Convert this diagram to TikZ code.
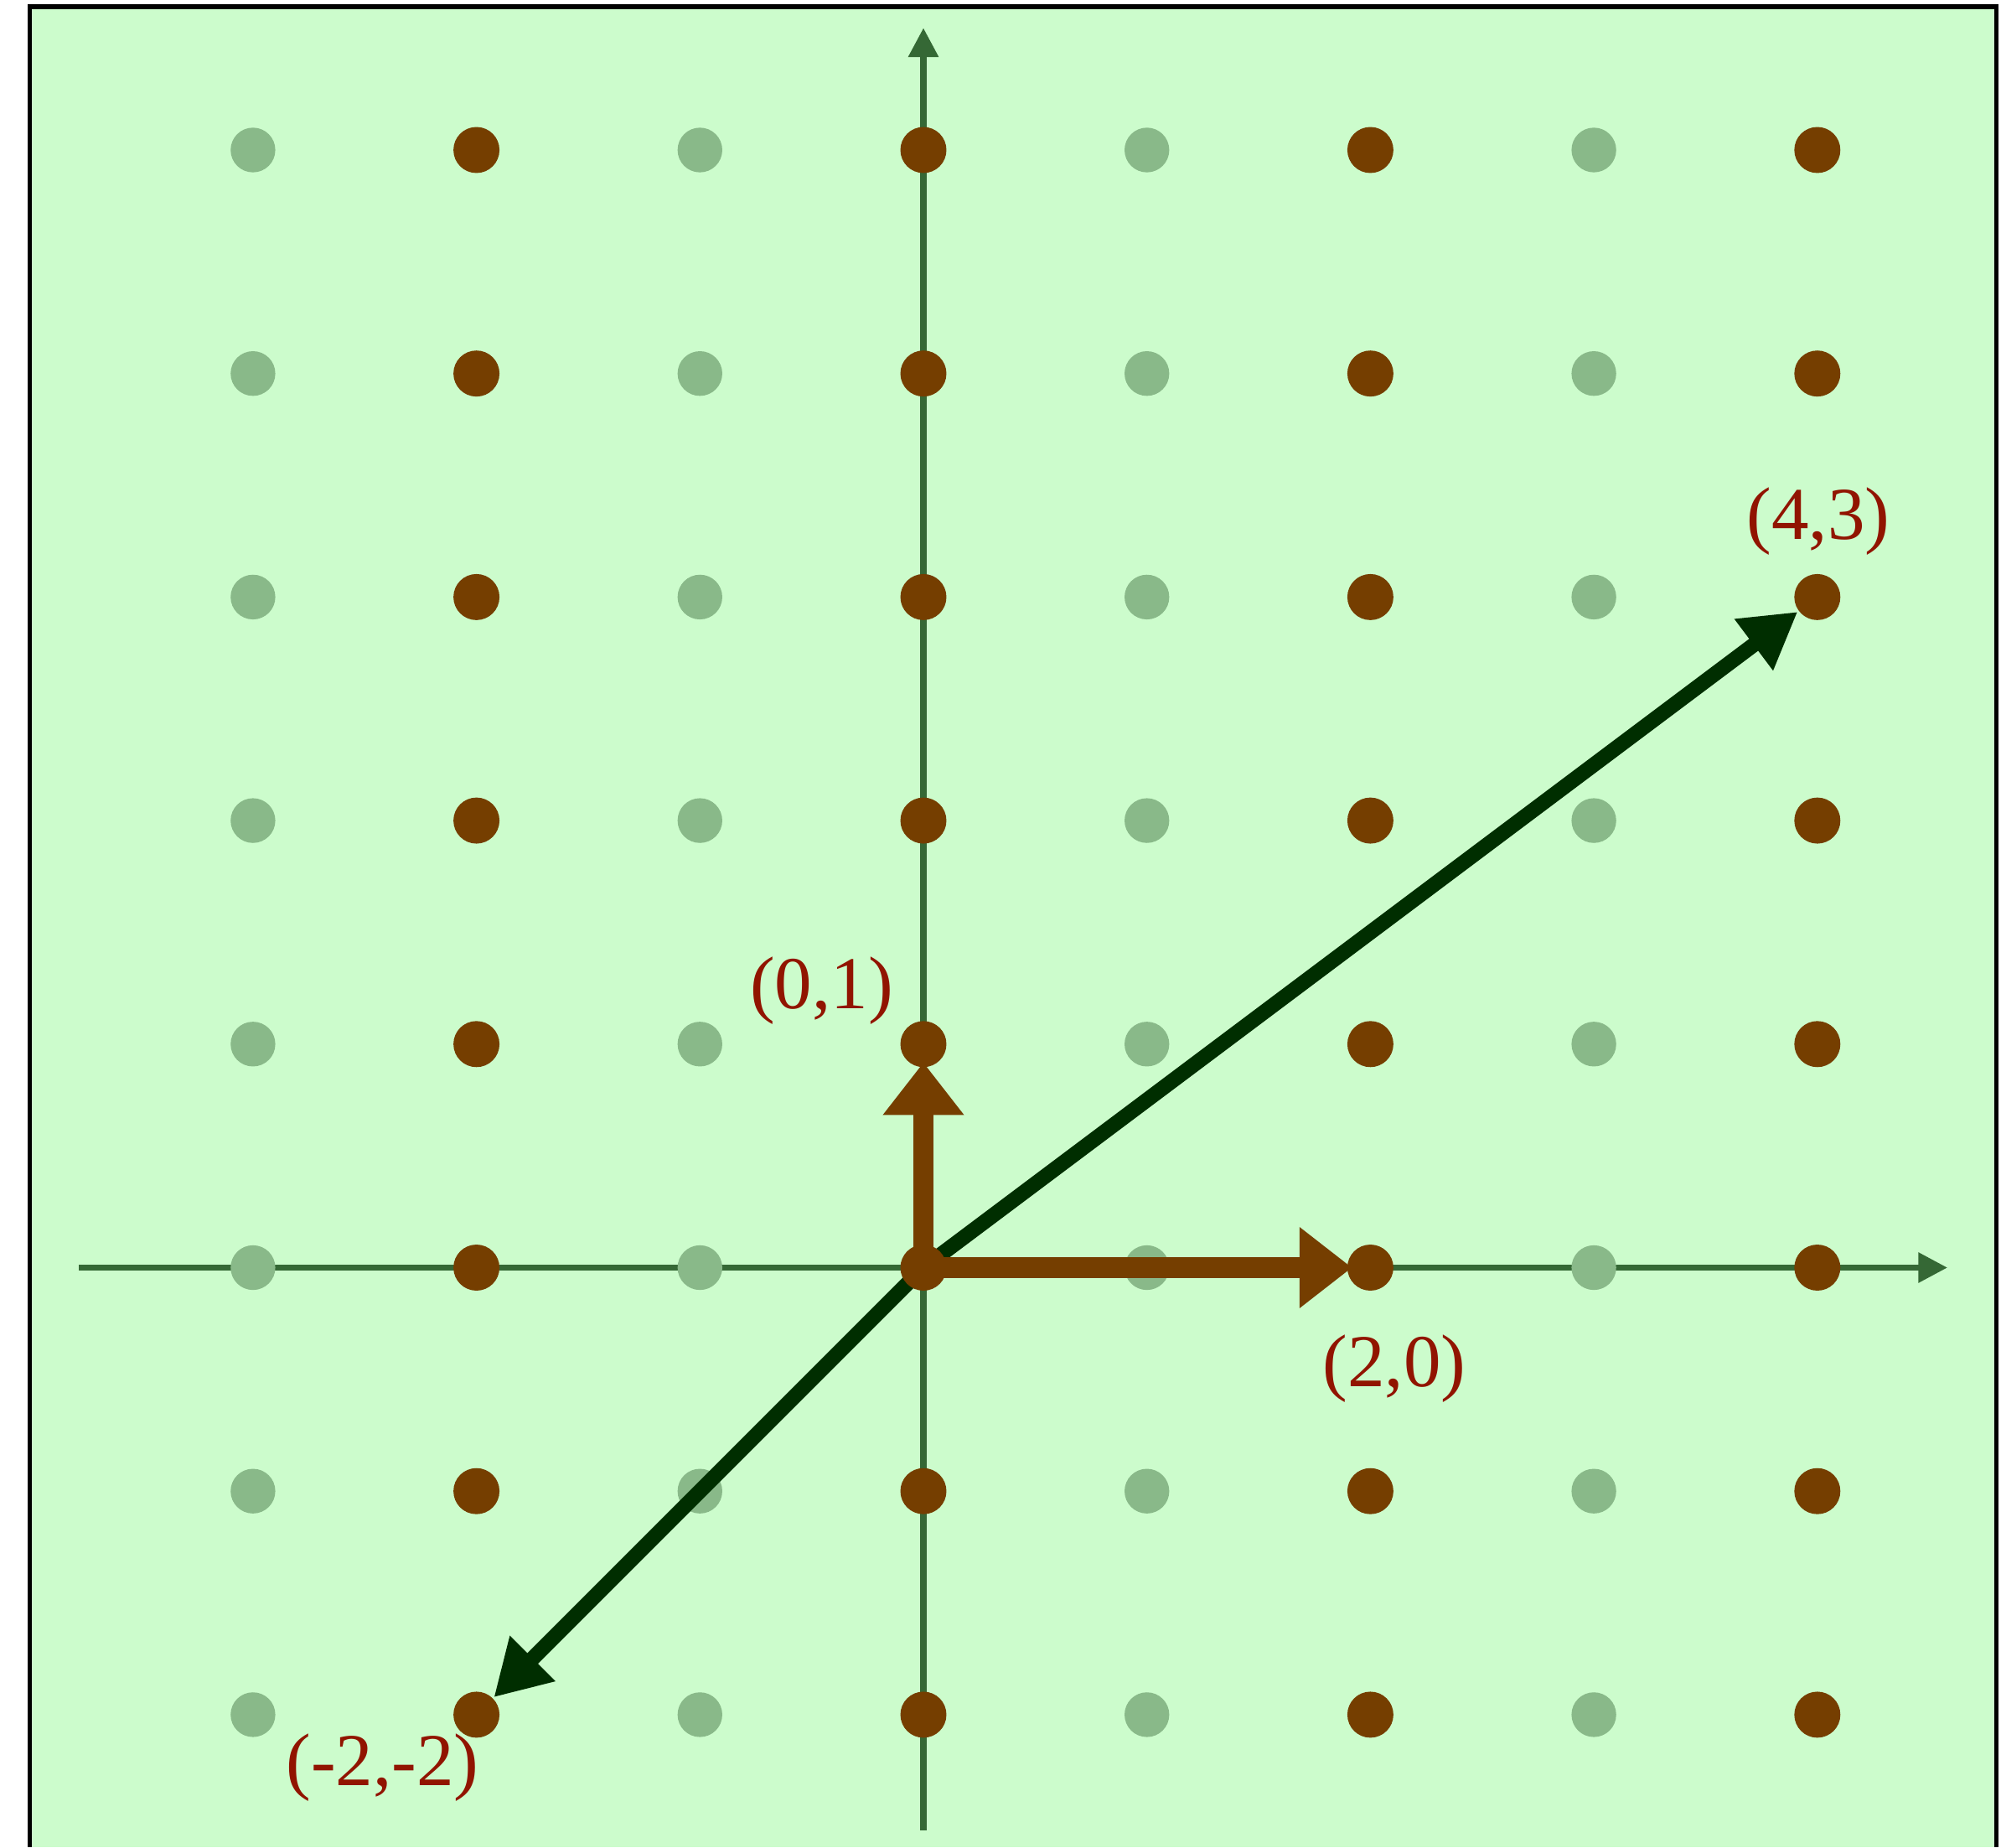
\documentclass[tikz,border=0pt]{standalone}
\usepackage{fontspec}
\setmainfont{Liberation Serif}
\usepackage{tikz}
\usetikzlibrary{arrows.meta,backgrounds}

\definecolor{paperGreen}{RGB}{204,252,204}
\definecolor{dotGreen}{RGB}{137,185,137}
\definecolor{dotBrown}{RGB}{117,62,0}
\definecolor{axisGreen}{RGB}{53,104,53}
\definecolor{vecGreen}{RGB}{0,46,0}
\definecolor{labelRed}{RGB}{145,20,0}

\begin{document}
\begin{tikzpicture}[
    gpt/.style={circle, fill=dotGreen, inner sep=0pt, minimum size=0.2cm},
    bpt/.style={circle, fill=dotBrown, inner sep=0pt, minimum size=0.206cm},
    axline/.style={-{Triangle[length=3.7pt,width=3.7pt]}, line width=0.75pt, axisGreen},
    varr/.style={-{Triangle[length=7pt,width=7.7pt]}, line width=1.9pt, vecGreen},
    barr/.style={-{Triangle[length=6.7pt,width=9.9pt]}, line width=2.6pt, dotBrown, shorten >=-0.8pt},
    lbl/.style={font=\fontsize{9.5}{11}\selectfont, text=labelRed, inner sep=0pt, anchor=base}
]
\useasboundingbox (-4.132,-2.593) rectangle (4.822,5.671);

\begin{scope}[on background layer]
\fill[paperGreen] (-4,-2.593) rectangle (4.8,5.641);
\draw[line width=0.55pt] (-4,-2.593) -- (-4,5.641) -- (4.8,5.641) -- (4.8,-2.593);
\coordinate (xa) at (-3.778,0);
\coordinate (xb) at (4.582,0);
\coordinate (ya) at (0,-2.516);
\coordinate (yb) at (0,5.546);
\draw[axline] (xa) -- (xb);
\draw[axline] (ya) -- (yb);
\foreach \x in {-3,...,4}
  \foreach \y in {-2,...,5}
    \node[gpt] (g\x\y) at (\x,\y) {};
\end{scope}

% lattice points
\foreach \x in {-2,0,2,4}
  \foreach \y in {-2,...,5}
    \node[bpt] (p\x\y) at (\x,\y) {};

\begin{scope}[on background layer]
\draw[varr] (p00.center) -- (p43);
\draw[varr] (p00.center) -- (p-2-2);
\draw[barr] (p00.center) -- (p20);
\draw[barr] (p00.center) -- (p01);
\end{scope}

\node[lbl] (l43) at (4.004,3.259) {(4,3)};
\node[lbl] (l01) at (-0.456,1.157) {(0,1)};
\node[lbl] (l20) at (2.107,-0.534) {(2,0)};
\node[lbl] (lm22) at (-2.421,-2.319) {(-2,-2)};
\end{tikzpicture}
\end{document}
